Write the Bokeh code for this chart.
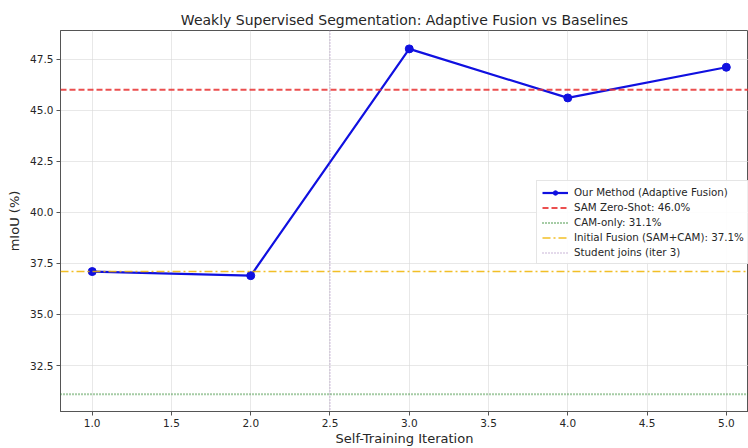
from bokeh.plotting import figure
from bokeh.models import Span, Legend, LegendItem, FixedTicker, NumeralTickFormatter
from bokeh.embed import file_html
from bokeh.resources import INLINE

iterations = [1, 2, 3, 4, 5]
miou = [37.1, 36.9, 48.0, 45.6, 47.1]
sam_zero_shot = 46.0
cam_only = 31.1
initial_fusion = 37.1
student_join_x = 2.5
x_ticks = [1.0, 1.5, 2.0, 2.5, 3.0, 3.5, 4.0, 4.5, 5.0]
y_ticks = [32.5, 35.0, 37.5, 40.0, 42.5, 45.0, 47.5]

FONT = "DejaVu Sans"
TXT = "#262626"

p = figure(width=748, height=448, output_backend="svg", toolbar_location=None,
           x_range=(0.8, 5.14), y_range=(30.25, 48.9),
           min_border_left=60, min_border_right=0, min_border_top=30, min_border_bottom=30)

p.title.text = "Weakly Supervised Segmentation: Adaptive Fusion vs Baselines"
p.title.align = "center"
p.title.text_font = FONT
p.title.text_font_size = "14px"
p.title.text_font_style = "normal"
p.title.text_color = TXT
p.title.offset = 0
p.title.standoff = 5

p.outline_line_color = "#555555"
p.outline_line_width = 1
p.background_fill_color = "white"
p.border_fill_color = "white"

for ax in (p.xaxis[0], p.yaxis[0]):
    ax.axis_line_color = "#555555"
    ax.major_tick_line_color = "#555555"
    ax.major_tick_out = 4
    ax.major_tick_in = 0
    ax.minor_tick_line_color = None
    ax.major_label_text_font = FONT
    ax.major_label_text_font_size = "10.5px"
    ax.major_label_text_color = TXT
    ax.axis_label_text_font = FONT
    ax.axis_label_text_font_size = "13px"
    ax.axis_label_text_font_style = "normal"
    ax.axis_label_text_color = TXT
    ax.formatter = NumeralTickFormatter(format="0.0")

p.xaxis[0].ticker = FixedTicker(ticks=x_ticks)
p.yaxis[0].ticker = FixedTicker(ticks=y_ticks)
p.xaxis[0].axis_label = "Self-Training Iteration"
p.yaxis[0].axis_label = "mIoU (%)"
p.xaxis[0].major_label_standoff = 3
p.xaxis[0].axis_label_standoff = 1
p.yaxis[0].major_label_standoff = 3
p.yaxis[0].axis_label_standoff = 5

p.xgrid.grid_line_color = "#d8d8d8"
p.ygrid.grid_line_color = "#d8d8d8"
p.xgrid.grid_line_alpha = 0.6
p.ygrid.grid_line_alpha = 0.6

SAM_C, CAM_C, FUS_C, STU_C = "#e83030", "#208020", "#f0b400", "#8050a0"

sam_line = Span(location=sam_zero_shot, dimension="width", line_color=SAM_C,
                line_dash="6 3", line_width=2, line_alpha=0.85)
cam_line = Span(location=cam_only, dimension="width", line_color=CAM_C,
                line_dash="1 2", line_width=2, line_alpha=0.8)
fus_line = Span(location=initial_fusion, dimension="width", line_color=FUS_C,
                line_dash="8 3 2 3", line_width=1.5, line_alpha=0.85)
stu_line = Span(location=student_join_x, dimension="height", line_color=STU_C,
                line_dash="1 2", line_width=1.3, line_alpha=0.55)
for s in (sam_line, cam_line, fus_line, stu_line):
    p.add_layout(s)

# proxy glyphs for legend entries
nan = float("nan")
r_sam = p.line([nan], [nan], line_color=SAM_C, line_dash="6 3", line_width=2, line_alpha=0.85)
r_cam = p.line([nan], [nan], line_color=CAM_C, line_dash="1 2", line_width=2, line_alpha=0.8)
r_fus = p.line([nan], [nan], line_color=FUS_C, line_dash="8 3 2 3", line_width=1.5, line_alpha=0.85)
r_stu = p.line([nan], [nan], line_color=STU_C, line_dash="1 2", line_width=1.3, line_alpha=0.55)

r_line = p.line(iterations, miou, line_color="#1010e0", line_width=2.2)
r_pts = p.scatter(iterations, miou, size=8, fill_color="#1010e0", line_color="#1010e0")

legend = Legend(items=[
    LegendItem(label="Our Method (Adaptive Fusion)", renderers=[r_line, r_pts]),
    LegendItem(label="SAM Zero-Shot: 46.0%", renderers=[r_sam]),
    LegendItem(label="CAM-only: 31.1%", renderers=[r_cam]),
    LegendItem(label="Initial Fusion (SAM+CAM): 37.1%", renderers=[r_fus]),
    LegendItem(label="Student joins (iter 3)", renderers=[r_stu]),
], location=(476, 147))
legend.label_text_font = FONT
legend.label_text_font_size = "10.3px"
legend.label_text_color = TXT
legend.label_height = 11
legend.label_standoff = 6
legend.glyph_width = 26
legend.glyph_height = 11
legend.spacing = 3
legend.padding = 5
legend.margin = 0
legend.border_line_color = "#cccccc"
legend.border_line_width = 1
legend.background_fill_alpha = 0.9
p.add_layout(legend, "center")

open("out.html", "w").write(file_html(p, INLINE))
